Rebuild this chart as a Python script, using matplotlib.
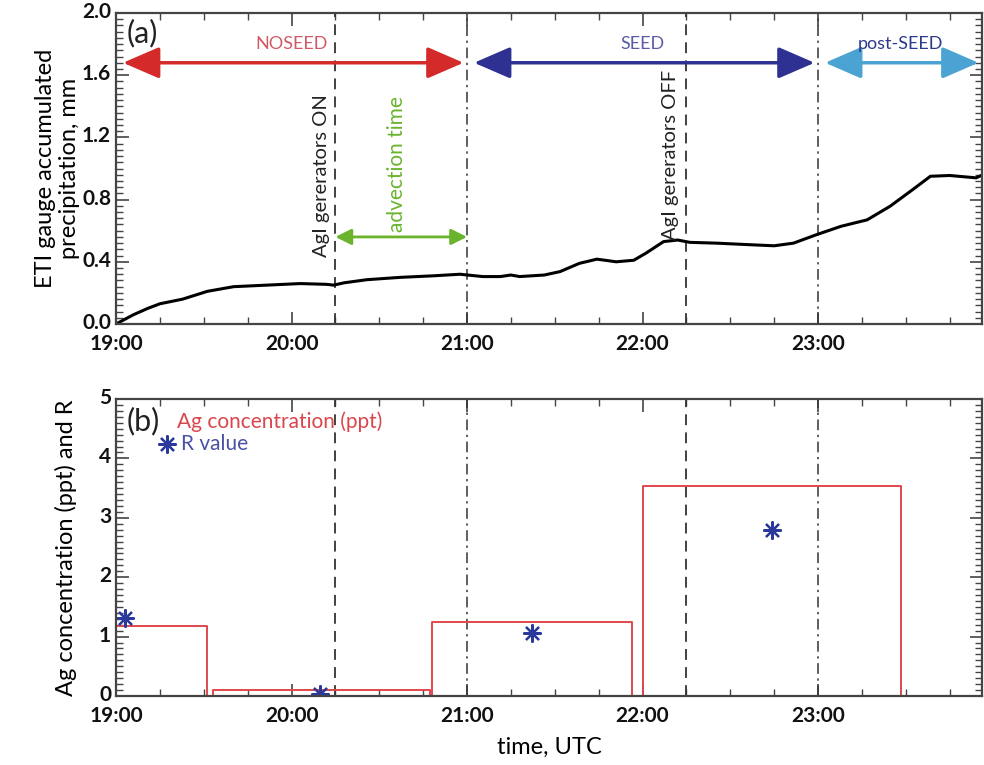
import matplotlib
matplotlib.use("Agg")
import matplotlib.pyplot as plt
import matplotlib.transforms as mtransforms
from matplotlib.ticker import MultipleLocator, FixedLocator

plt.rcParams['font.family'] = ['Lato', 'DejaVu Sans']

# ---------------- data ----------------
# panel (a): accumulated precipitation (decimal hour UTC, mm)
precip_time = [19.00, 19.05, 19.10, 19.18, 19.25, 19.38, 19.52, 19.67, 19.86, 20.05,
               20.20, 20.24, 20.30, 20.43, 20.62, 20.81, 20.96, 21.09, 21.19, 21.25,
               21.30, 21.44, 21.53, 21.64, 21.74, 21.85, 21.95, 22.02, 22.12, 22.20,
               22.27, 22.42, 22.61, 22.75, 22.86, 22.99, 23.13, 23.28, 23.41, 23.54,
               23.64, 23.75, 23.90, 23.93]
precip_mm = [0.00, 0.03, 0.06, 0.10, 0.13, 0.16, 0.21, 0.24, 0.25, 0.26,
             0.255, 0.25, 0.265, 0.285, 0.30, 0.31, 0.32, 0.305, 0.305, 0.315,
             0.305, 0.315, 0.337, 0.39, 0.417, 0.40, 0.41, 0.456, 0.53, 0.54,
             0.525, 0.52, 0.51, 0.503, 0.52, 0.574, 0.628, 0.67, 0.757, 0.865,
             0.95, 0.955, 0.94, 0.955]

# panel (b): Ag concentration boxes (start hour, end hour, ppt)
ag_start = [19.00, 19.55, 20.80, 22.00]
ag_end = [19.52, 20.79, 21.94, 23.47]
ag_ppt = [1.18, 0.10, 1.25, 3.54]

# R values
r_time = [19.05, 20.16, 21.37, 22.74]
r_val = [1.31, 0.03, 1.06, 2.79]

# events
gen_on, gen_off = 20.25, 22.25
period_bounds = [21.0, 23.0]
period_names = ["NOSEED", "SEED", "post-SEED"]

hour_ticks = [19, 20, 21, 22, 23]
hour_labels = ["19:00", "20:00", "21:00", "22:00", "23:00"]
XMAX = 23.934

# ---------------- figure ----------------
fig = plt.figure(figsize=(9.84, 7.65), dpi=100)
ax1 = fig.add_axes([116/984, 1-324/765, (982-116)/984, (324-13)/765])
ax2 = fig.add_axes([116/984, 1-696/765, (982-116)/984, (696-399)/765])

spine_col = '#444444'
ast = (8, 2, 0)
for ax in (ax1, ax2):
    ax.set_xlim(19, XMAX)
    ax.xaxis.set_major_locator(FixedLocator(hour_ticks))
    ax.set_xticklabels(hour_labels)
    ax.xaxis.set_minor_locator(MultipleLocator(0.25))
    ax.tick_params(which='both', direction='in', top=True, right=True, colors=spine_col,
                   labelcolor='#111111', labelsize=15)
    ax.tick_params(axis='x', which='major', pad=7)
    ax.tick_params(which='major', length=9, width=1.2)
    ax.tick_params(which='minor', length=5, width=1.0)
    for s in ax.spines.values():
        s.set_color(spine_col)
        s.set_linewidth(1.6)
    ax.axvline(gen_on, color='#333333', ls=(0, (6, 4)), lw=1.3)
    ax.axvline(gen_off, color='#333333', ls=(0, (6, 4)), lw=1.3)
    for b in period_bounds:
        ax.axvline(b, color='#333333', ls=(0, (7, 3, 1.5, 3)), lw=1.1)

# ---- panel (a)
ax1.set_ylim(0, 2.0)
ax1.yaxis.set_minor_locator(MultipleLocator(0.04))
ax1.set_yticks([0, 0.4, 0.8, 1.2, 1.6, 2.0])
ax1.set_yticklabels(["0.0", "0.4", "0.8", "1.2", "1.6", "2.0"])
ax1.plot(precip_time, precip_mm, color='black', lw=2.2)
ax1.set_ylabel("ETI gauge accumulated\nprecipitation, mm", fontsize=17, labelpad=1)
ax1.text(19.06, 1.87, "(a)", fontsize=22, va='center', ha='left', color='#222222')

y_arr = 1.68
arrow_specs = [(19.0, 21.0, '#d42a2a', '#d05a66', period_names[0]),
               (21.0, 23.0, '#2e3192', '#5b5ba8', period_names[1]),
               (23.0, XMAX, '#4aa3d3', '#2b3a8c', period_names[2])]
for x0, x1, col, tcol, name in arrow_specs:
    ax1.annotate('', xy=(x1 - 0.02, y_arr), xytext=(x0 + 0.04, y_arr),
                 arrowprops=dict(arrowstyle='<|-|>,head_length=1.5,head_width=0.65',
                                 color=col, lw=2.5, shrinkA=0, shrinkB=0,
                                 mutation_scale=15))
    ax1.text((x0 + x1) / 2, 1.75, name, color=tcol, fontsize=13, ha='center', va='bottom')

ax1.annotate('', xy=(21.0, 0.56), xytext=(gen_on, 0.56),
             arrowprops=dict(arrowstyle='<|-|>,head_length=0.8,head_width=0.4',
                             color='#6ab42d', lw=2.0, shrinkA=0, shrinkB=0,
                             mutation_scale=12))
ax1.text(20.6, 1.03, "advection time", color='#6ab42d', rotation=90, fontsize=15,
         ha='center', va='center')
ax1.text(20.17, 0.43, "AgI gererators ON", color='#222222', rotation=90, fontsize=14.5,
         ha='center', va='bottom')
ax1.text(22.16, 0.54, "AgI gererators OFF", color='#222222', rotation=90, fontsize=14.5,
         ha='center', va='bottom')

# ---- panel (b)
ax2.set_ylim(0, 5)
ax2.yaxis.set_major_locator(MultipleLocator(1))
ax2.yaxis.set_minor_locator(MultipleLocator(0.1))
for s0, s1, v in zip(ag_start, ag_end, ag_ppt):
    ax2.plot([s0, s0, s1, s1], [0, v, v, 0], color='#e0474c', lw=1.4)
ax2.plot(r_time, r_val, ls='none', marker=ast, markersize=13, mew=1.6,
         color='#2b3a9a')
ax2.set_ylabel("Ag concentration (ppt) and R", fontsize=17, labelpad=16)
ax2.set_xlabel("time, UTC", fontsize=17, labelpad=8)
ax2.text(19.06, 4.62, "(b)", fontsize=22, va='center', ha='left', color='#222222')
ax2.text(19.35, 4.62, "Ag concentration (ppt)", fontsize=15, color='#d9464c', va='center')
ax2.plot([19.29], [4.25], ls='none', marker=ast, markersize=13, mew=1.6,
         color='#2b3a9a')
ax2.text(19.37, 4.25, "R value", fontsize=15, color='#4a52a6', va='center')

lift = mtransforms.ScaledTranslation(0, 3 / 100, fig.dpi_scale_trans)
for ax in (ax1, ax2):
    for lab in ax.get_xticklabels() + ax.get_yticklabels():
        lab.set_fontweight('bold')
    for lab in ax.get_yticklabels():
        lab.set_transform(lab.get_transform() + lift)

fig.savefig("out.png", dpi=100)
